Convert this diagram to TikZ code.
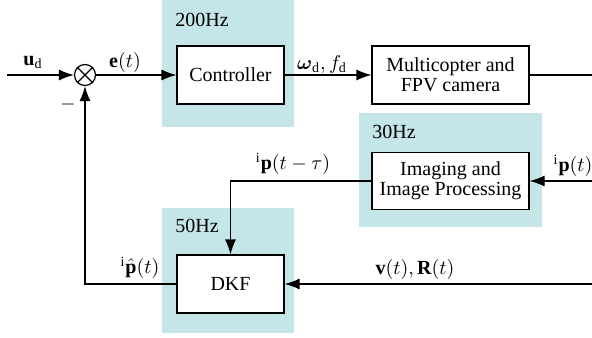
\documentclass[tikz,border=0pt]{standalone}
\usepackage{amsmath}
\usepackage{amssymb}
\usepackage{fontspec}
\setmainfont{Liberation Serif}
\usetikzlibrary{arrows.meta,positioning,shapes.geometric,calc}
\definecolor{ratebg}{RGB}{197,230,232}
\tikzset{
    block/.style={
        draw,
        semithick,
        align=center,
        minimum height=29pt,
        minimum width=53.5pt,
        fill=white,
        inner sep=1pt
    },
    wideblock/.style={
        block,
        minimum width=78.5pt
    },
    ratebox/.style={
        fill=ratebg,
        draw=none
    },
    ratelabel/.style={anchor=west, inner sep=0pt},
    sumnode/.style={
        draw,
        semithick,
        circle,
        minimum size=10.5pt,
        inner sep=0pt
    },
    flow/.style={-{Latex[length=7.5pt,width=5.5pt]}, semithick},
    wire/.style={semithick},
    sig/.style={inner sep=0pt}
}

\begin{document}
\begin{tikzpicture}[x=0.5pt,y=-0.5pt]
        \useasboundingbox (0,0) rectangle (592,337);

        % rate regions
        \fill[ratebox] (162,0) rectangle (294,127);
        \fill[ratebox] (359,113) rectangle (542,227);
        \fill[ratebox] (162,208) rectangle (294,333);
        \node[ratelabel] (r200) at (175,20) {200Hz};
        \node[ratelabel] (r30) at (372,132) {30Hz};
        \node[ratelabel] (r50) at (175,226) {50Hz};

        % blocks
        \node[sumnode] (sum) at (85,75) {};
        \draw[semithick] (sum.north west) -- (sum.south east)
                         (sum.north east) -- (sum.south west);
        \node[block] (ctrl) at (230.5,75) {Controller};
        \node[wideblock] (plant) at (450.5,75) {Multicopter and\\[-2pt]FPV camera};
        \node[wideblock, minimum height=28.5pt] (img) at (450.5,181) {Imaging and\\[-2pt]Image Processing};
        \node[block] (dkf) at (230.5,284) {DKF};

        \coordinate (ref) at (7,75);
        \coordinate (out) at (592,75);
        \coordinate (pin) at (592,181);
        \coordinate (vin) at (592,284);

        \draw[flow] (ref) -- (sum);
        \draw[flow] (sum) -- (ctrl);
        \draw[flow] (ctrl) -- (plant);
        \draw[wire] (plant) -- (out);
        \draw[flow] (pin) -- (img);
        \draw[flow] (img.west) -| (dkf.north);
        \draw[flow] (vin) -- (dkf);
        \draw[flow] (dkf.west) -| (sum.south);

        % signals
        \node[sig] (ud) at (33,62) {$\mathbf{u}_{\mathrm{d}}$};
        \node[sig] (err) at (125,62) {$\mathbf{e}(t)$};
        \node[sig] (cmd) at (322,64) {$\boldsymbol{\omega}_{\mathrm{d}},f_{\mathrm{d}}$};
        \node[sig] (meas) at (573,166) {${}^{\mathrm{i}}\mathbf{p}(t)$};
        \node[sig] (delay) at (293,164) {${}^{\mathrm{i}}\mathbf{p}(t-\tau)$};
        \node[sig] (est) at (140,268) {${}^{\mathrm{i}}\hat{\mathbf{p}}(t)$};
        \node[sig] (vr) at (415,269) {$\mathbf{v}(t),\mathbf{R}(t)$};
        \node[sig] (minus) at (68,104) {$-$};
    \end{tikzpicture}
\end{document}
